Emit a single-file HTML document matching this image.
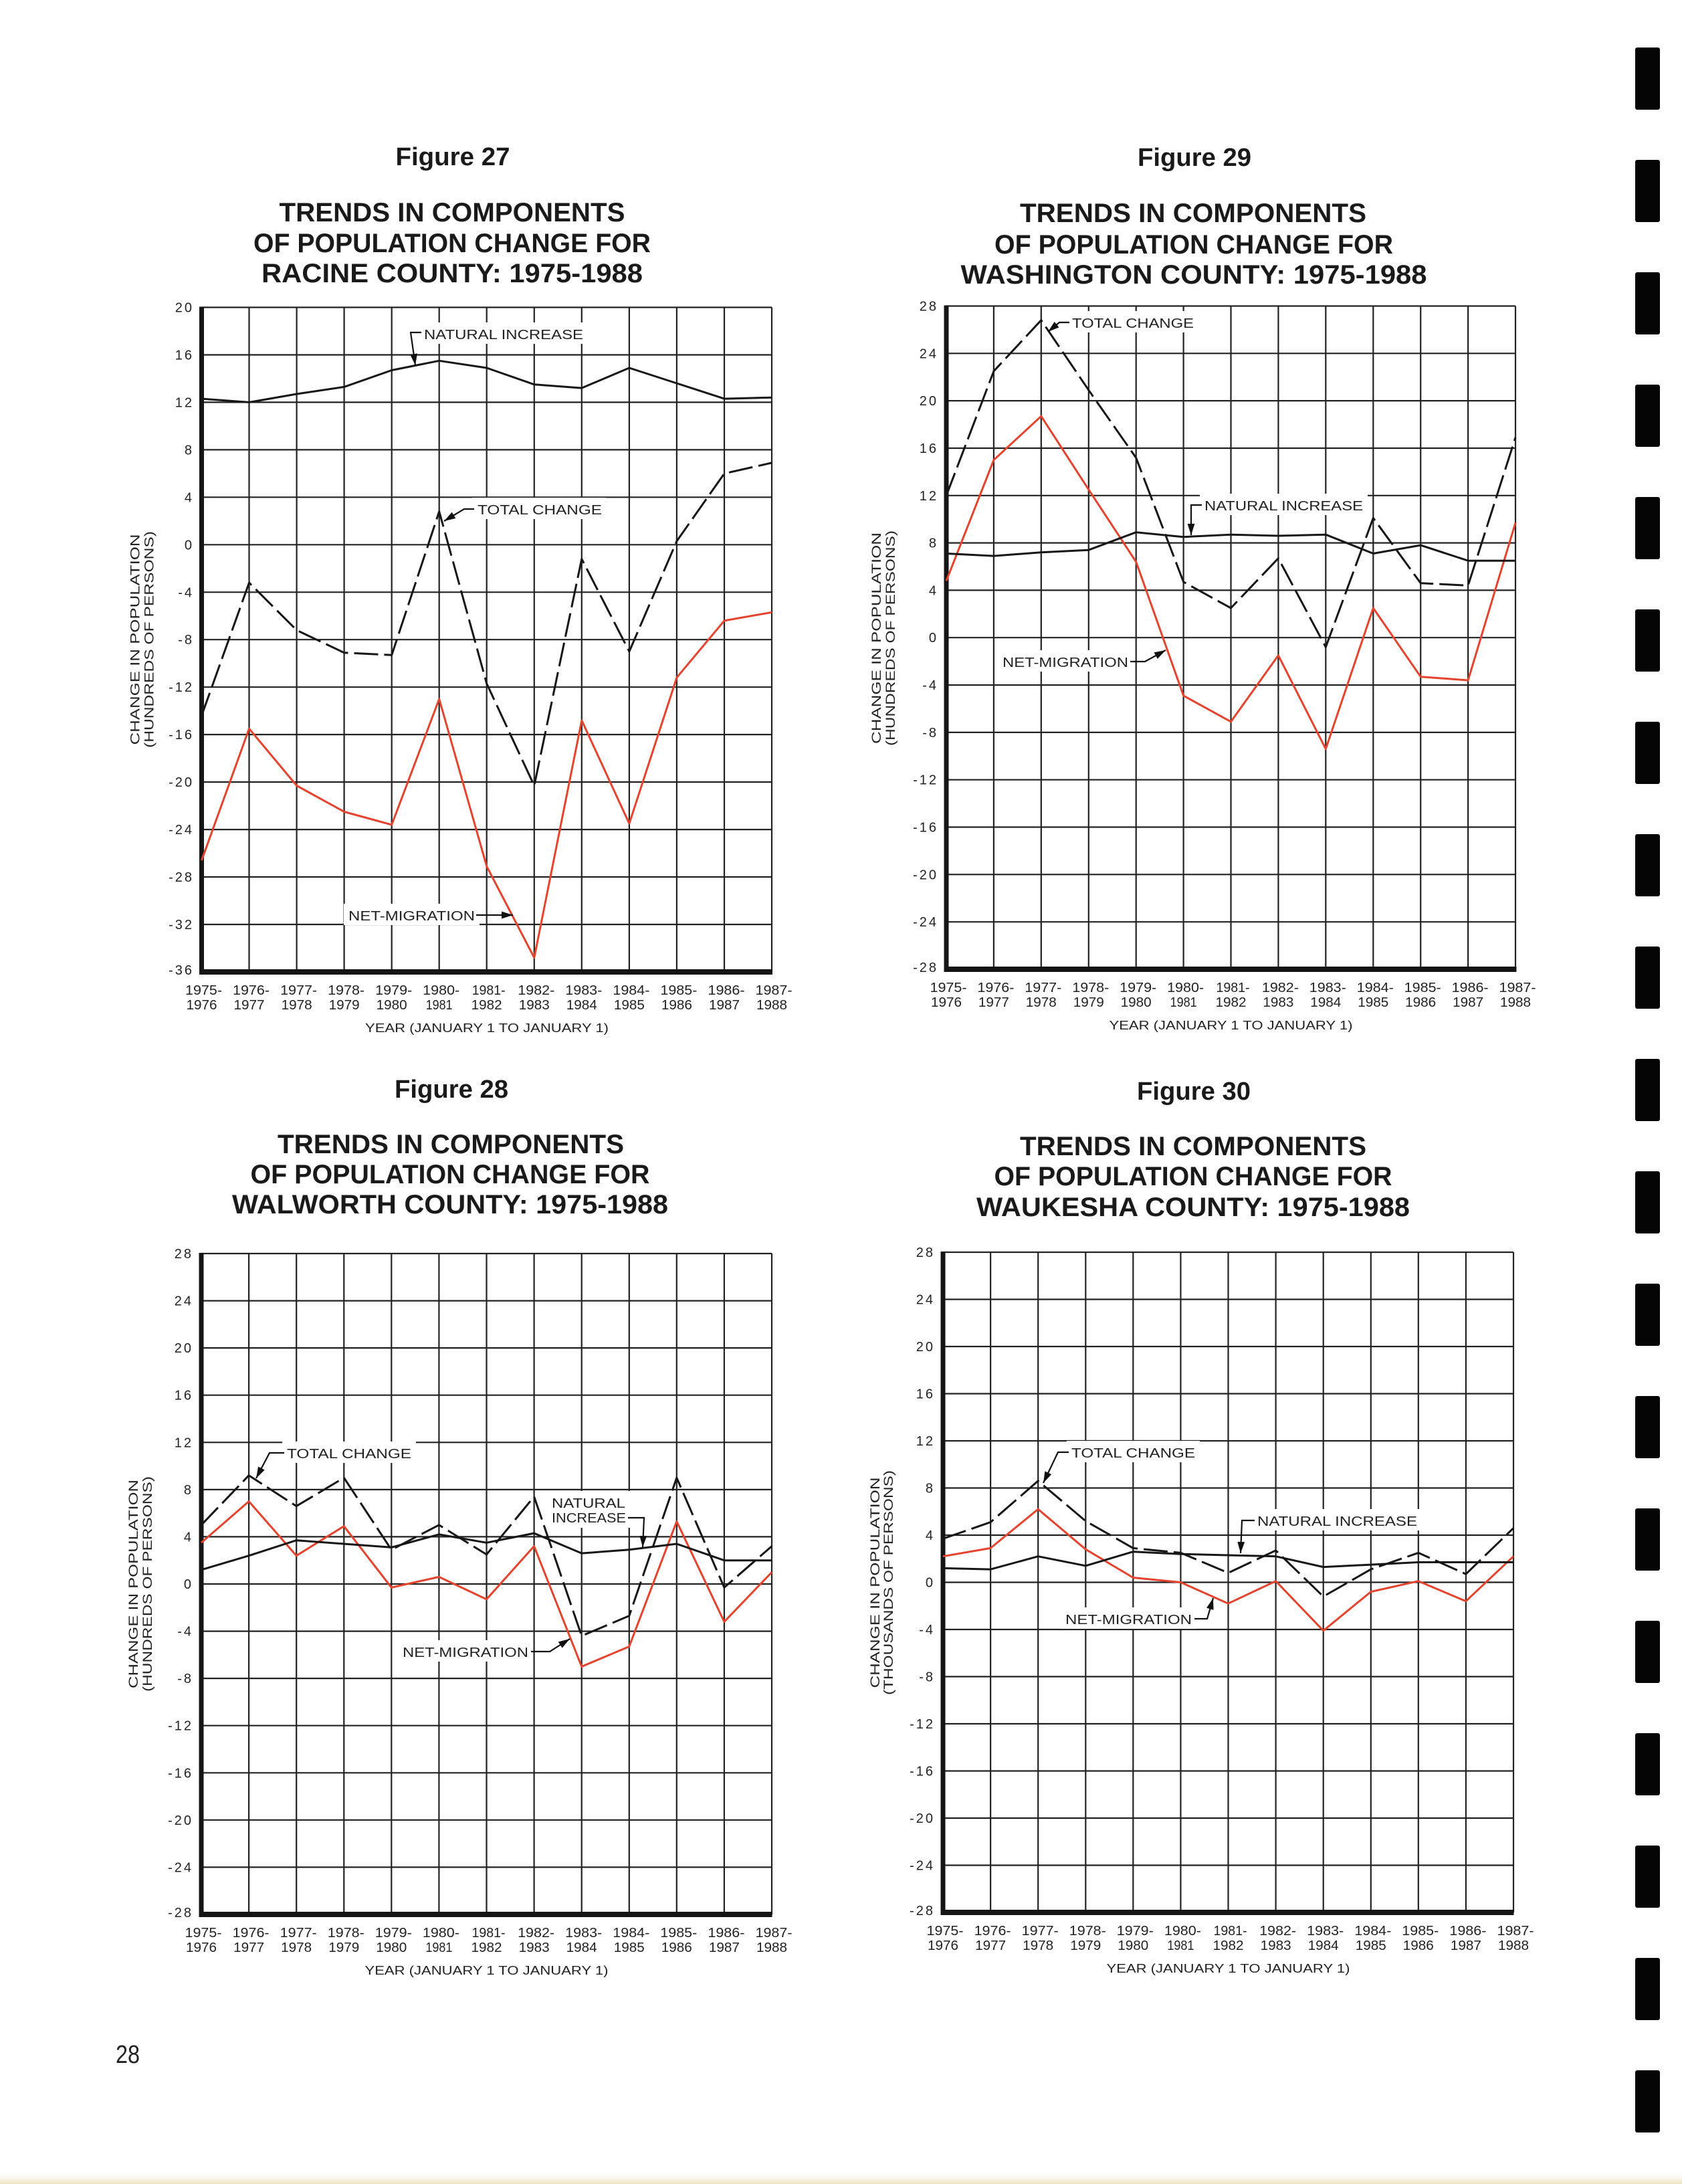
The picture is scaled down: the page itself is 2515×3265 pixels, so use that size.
<!DOCTYPE html>
<html><head><meta charset="utf-8"><style>html,body{margin:0;padding:0;background:#fff}svg{display:block}</style></head><body>
<svg xmlns="http://www.w3.org/2000/svg" width="2515" height="3265" viewBox="0 0 2515 3265" font-family="'Liberation Sans', Arial, sans-serif">
<defs>
<marker id="a" viewBox="0 0 10 10" refX="10" refY="5" markerWidth="17" markerHeight="17" markerUnits="userSpaceOnUse" orient="auto"><path d="M0,1.8 L10,5 L0,8.2 z" fill="#111"/></marker>
<linearGradient id="yl" x1="0" y1="0" x2="0" y2="1"><stop offset="0" stop-color="#fff" stop-opacity="0"/><stop offset="1" stop-color="#ece4c0"/></linearGradient>
</defs>
<rect width="2515" height="3265" fill="#fff"/>
<rect x="0" y="3245" width="2515" height="20" fill="url(#yl)"/>

<!-- side marks -->
<g fill="#050505">
<rect x="2445" y="71" width="37" height="93" rx="3"/><rect x="2445" y="239" width="37" height="93" rx="3"/><rect x="2445" y="407" width="37" height="93" rx="3"/><rect x="2445" y="575" width="37" height="93" rx="3"/><rect x="2445" y="743" width="37" height="93" rx="3"/><rect x="2445" y="911" width="37" height="93" rx="3"/><rect x="2445" y="1079" width="37" height="93" rx="3"/><rect x="2445" y="1247" width="37" height="93" rx="3"/><rect x="2445" y="1415" width="37" height="93" rx="3"/><rect x="2445" y="1583" width="37" height="93" rx="3"/><rect x="2445" y="1751" width="37" height="93" rx="3"/><rect x="2445" y="1919" width="37" height="93" rx="3"/><rect x="2445" y="2087" width="37" height="93" rx="3"/><rect x="2445" y="2255" width="37" height="93" rx="3"/><rect x="2445" y="2423" width="37" height="93" rx="3"/><rect x="2445" y="2591" width="37" height="93" rx="3"/><rect x="2445" y="2759" width="37" height="93" rx="3"/><rect x="2445" y="2927" width="37" height="93" rx="3"/><rect x="2445" y="3095" width="37" height="93" rx="3"/>
</g>

<text x="173" y="3084" font-size="38" fill="#222" textLength="36" lengthAdjust="spacingAndGlyphs">28</text>

<!-- ================= FIGURE 27 ================= -->
<g fill="#1a1a1a">
<text x="677" y="247" font-size="38" font-weight="bold" text-anchor="middle" textLength="171" lengthAdjust="spacingAndGlyphs">Figure 27</text>
<text x="676" y="331" font-size="40" font-weight="bold" text-anchor="middle" textLength="517" lengthAdjust="spacingAndGlyphs">TRENDS IN COMPONENTS</text>
<text x="676" y="377" font-size="40" font-weight="bold" text-anchor="middle" textLength="594" lengthAdjust="spacingAndGlyphs">OF POPULATION CHANGE FOR</text>
<text x="676" y="422" font-size="40" font-weight="bold" text-anchor="middle" textLength="570" lengthAdjust="spacingAndGlyphs">RACINE COUNTY: 1975-1988</text>
</g>
<path fill="none" stroke="#222" stroke-width="2.2" d="M372.5 459.5V1453M443.6 459.5V1453M514.6 459.5V1453M585.7 459.5V1453M656.7 459.5V1453M727.7 459.5V1453M798.8 459.5V1453M869.8 459.5V1453M940.9 459.5V1453M1011.9 459.5V1453M1083 459.5V1453M1154 459.5V1453M301.5 459.5H1154M301.5 530.5H1154M301.5 601.4H1154M301.5 672.4H1154M301.5 743.3H1154M301.5 814.3H1154M301.5 885.3H1154M301.5 956.2H1154M301.5 1027.2H1154M301.5 1098.1H1154M301.5 1169.1H1154M301.5 1240.1H1154M301.5 1311H1154M301.5 1382H1154"/>
<rect x="298" y="458.5" width="7" height="998" fill="#151515"/>
<rect x="298" y="1449" width="857" height="8" fill="#151515"/>
<g font-size="20" text-anchor="end" fill="#222" letter-spacing="3">
<text x="290" y="466.5">20</text><text x="290" y="537.5">16</text><text x="290" y="608.4">12</text><text x="290" y="679.4">8</text><text x="290" y="750.3">4</text><text x="290" y="821.3">0</text><text x="290" y="892.3">-4</text><text x="290" y="963.2">-8</text><text x="290" y="1034.2">-12</text><text x="290" y="1105.1">-16</text><text x="290" y="1176.1">-20</text><text x="290" y="1247.1">-24</text><text x="290" y="1318">-28</text><text x="290" y="1389">-32</text><text x="290" y="1457">-36</text>
</g>
<g font-size="19" fill="#222" text-anchor="middle">
<text transform="translate(201.5,956) rotate(-90)" x="0" y="7" textLength="315" lengthAdjust="spacingAndGlyphs">CHANGE IN POPULATION</text>
<text transform="translate(222.5,956) rotate(-90)" x="0" y="7" textLength="324" lengthAdjust="spacingAndGlyphs">(HUNDREDS OF PERSONS)</text>
</g>
<g font-size="20" fill="#222" text-anchor="middle">
<text x="304.5" y="1487" textLength="55" lengthAdjust="spacingAndGlyphs">1975-</text><text x="375.5" y="1487" textLength="55" lengthAdjust="spacingAndGlyphs">1976-</text><text x="446.6" y="1487" textLength="55" lengthAdjust="spacingAndGlyphs">1977-</text><text x="517.6" y="1487" textLength="55" lengthAdjust="spacingAndGlyphs">1978-</text><text x="588.7" y="1487" textLength="55" lengthAdjust="spacingAndGlyphs">1979-</text><text x="659.7" y="1487" textLength="55" lengthAdjust="spacingAndGlyphs">1980-</text><text x="730.7" y="1487" textLength="50" lengthAdjust="spacingAndGlyphs">1981-</text><text x="801.8" y="1487" textLength="55" lengthAdjust="spacingAndGlyphs">1982-</text><text x="872.8" y="1487" textLength="55" lengthAdjust="spacingAndGlyphs">1983-</text><text x="943.9" y="1487" textLength="55" lengthAdjust="spacingAndGlyphs">1984-</text><text x="1014.9" y="1487" textLength="55" lengthAdjust="spacingAndGlyphs">1985-</text><text x="1086" y="1487" textLength="55" lengthAdjust="spacingAndGlyphs">1986-</text><text x="1157" y="1487" textLength="55" lengthAdjust="spacingAndGlyphs">1987-</text>
<text x="301.5" y="1509" textLength="46" lengthAdjust="spacingAndGlyphs">1976</text><text x="372.5" y="1509" textLength="46" lengthAdjust="spacingAndGlyphs">1977</text><text x="443.6" y="1509" textLength="46" lengthAdjust="spacingAndGlyphs">1978</text><text x="514.6" y="1509" textLength="46" lengthAdjust="spacingAndGlyphs">1979</text><text x="585.7" y="1509" textLength="46" lengthAdjust="spacingAndGlyphs">1980</text><text x="656.7" y="1509" textLength="40" lengthAdjust="spacingAndGlyphs">1981</text><text x="727.7" y="1509" textLength="46" lengthAdjust="spacingAndGlyphs">1982</text><text x="798.8" y="1509" textLength="46" lengthAdjust="spacingAndGlyphs">1983</text><text x="869.8" y="1509" textLength="46" lengthAdjust="spacingAndGlyphs">1984</text><text x="940.9" y="1509" textLength="46" lengthAdjust="spacingAndGlyphs">1985</text><text x="1011.9" y="1509" textLength="46" lengthAdjust="spacingAndGlyphs">1986</text><text x="1083" y="1509" textLength="46" lengthAdjust="spacingAndGlyphs">1987</text><text x="1154" y="1509" textLength="46" lengthAdjust="spacingAndGlyphs">1988</text>
<text x="728" y="1543" font-size="18" textLength="364" lengthAdjust="spacingAndGlyphs">YEAR (JANUARY 1 TO JANUARY 1)</text>
</g>
<g fill="#fff"><rect x="627" y="482" width="252" height="32"/><rect x="706" y="744" width="200" height="32"/><rect x="514" y="1351" width="203" height="32"/></g>
<g font-size="20" fill="#222">
<text x="634" y="507" textLength="238" lengthAdjust="spacingAndGlyphs">NATURAL INCREASE</text>
<text x="714" y="769" textLength="186" lengthAdjust="spacingAndGlyphs">TOTAL CHANGE</text>
<text x="521" y="1376" textLength="189" lengthAdjust="spacingAndGlyphs">NET-MIGRATION</text>
</g>
<g fill="none" stroke-width="3" stroke-linejoin="round">
<polyline stroke="#e4432d" points="301.5,1286.2 372.5,1089.3 443.6,1174.5 514.6,1213.5 585.7,1233 656.7,1045 727.7,1295.1 798.8,1431.7 869.8,1076.9 940.9,1231.2 1011.9,1013 1083,927.9 1154,915.4"/>
<polyline stroke="#161616" points="301.5,596.1 372.5,601.4 443.6,589 514.6,578.4 585.7,553.5 656.7,539.3 727.7,550 798.8,574.8 869.8,580.1 940.9,550 1011.9,573 1083,596.1 1154,594.3"/>
<polyline stroke="#161616" stroke-dasharray="36 9" points="301.5,1069.8 372.5,871.1 443.6,942.1 514.6,975.8 585.7,979.3 656.7,764.6 727.7,1021.9 798.8,1174.5 869.8,835.6 940.9,974 1011.9,809 1083,707.9 1154,691.9"/>
</g>
<g fill="none" stroke="#111" stroke-width="2.2">
<polyline points="630,497 614,497 621,546" marker-end="url(#a)"/>
<polyline points="709,761 694,761 664,779" marker-end="url(#a)"/>
<polyline points="712,1368 767,1368" marker-end="url(#a)"/>
</g>

<!-- ================= FIGURE 29 ================= -->
<g fill="#1a1a1a">
<text x="1786" y="248" font-size="38" font-weight="bold" text-anchor="middle" textLength="170" lengthAdjust="spacingAndGlyphs">Figure 29</text>
<text x="1784" y="332" font-size="40" font-weight="bold" text-anchor="middle" textLength="518" lengthAdjust="spacingAndGlyphs">TRENDS IN COMPONENTS</text>
<text x="1785" y="379" font-size="40" font-weight="bold" text-anchor="middle" textLength="596" lengthAdjust="spacingAndGlyphs">OF POPULATION CHANGE FOR</text>
<text x="1785" y="424" font-size="40" font-weight="bold" text-anchor="middle" textLength="697" lengthAdjust="spacingAndGlyphs">WASHINGTON COUNTY: 1975-1988</text>
</g>
<path fill="none" stroke="#222" stroke-width="2.2" d="M1485.9 457.5V1449M1556.8 457.5V1449M1627.8 457.5V1449M1698.7 457.5V1449M1769.6 457.5V1449M1840.5 457.5V1449M1911.4 457.5V1449M1982.3 457.5V1449M2053.3 457.5V1449M2124.2 457.5V1449M2195.1 457.5V1449M2266 457.5V1449M1415 457.5H2266M1415 528.3H2266M1415 599.1H2266M1415 670H2266M1415 740.8H2266M1415 811.6H2266M1415 882.4H2266M1415 953.2H2266M1415 1024.1H2266M1415 1094.9H2266M1415 1165.7H2266M1415 1236.5H2266M1415 1307.3H2266M1415 1378.2H2266"/>
<rect x="1411.5" y="456.5" width="7" height="996" fill="#151515"/>
<rect x="1411.5" y="1445" width="856" height="8" fill="#151515"/>
<g font-size="20" text-anchor="end" fill="#222" letter-spacing="3">
<text x="1403" y="464.5">28</text><text x="1403" y="535.3">24</text><text x="1403" y="606.1">20</text><text x="1403" y="677">16</text><text x="1403" y="747.8">12</text><text x="1403" y="818.6">8</text><text x="1403" y="889.4">4</text><text x="1403" y="960.2">0</text><text x="1403" y="1031.1">-4</text><text x="1403" y="1101.9">-8</text><text x="1403" y="1172.7">-12</text><text x="1403" y="1243.5">-16</text><text x="1403" y="1314.3">-20</text><text x="1403" y="1385.2">-24</text><text x="1403" y="1453">-28</text>
</g>
<g font-size="19" fill="#222" text-anchor="middle">
<text transform="translate(1310,954) rotate(-90)" x="0" y="7" textLength="316" lengthAdjust="spacingAndGlyphs">CHANGE IN POPULATION</text>
<text transform="translate(1331,954) rotate(-90)" x="0" y="7" textLength="322" lengthAdjust="spacingAndGlyphs">(HUNDREDS OF PERSONS)</text>
</g>
<g font-size="20" fill="#222" text-anchor="middle">
<text x="1418" y="1483" textLength="55" lengthAdjust="spacingAndGlyphs">1975-</text><text x="1488.9" y="1483" textLength="55" lengthAdjust="spacingAndGlyphs">1976-</text><text x="1559.8" y="1483" textLength="55" lengthAdjust="spacingAndGlyphs">1977-</text><text x="1630.8" y="1483" textLength="55" lengthAdjust="spacingAndGlyphs">1978-</text><text x="1701.7" y="1483" textLength="55" lengthAdjust="spacingAndGlyphs">1979-</text><text x="1772.6" y="1483" textLength="55" lengthAdjust="spacingAndGlyphs">1980-</text><text x="1843.5" y="1483" textLength="50" lengthAdjust="spacingAndGlyphs">1981-</text><text x="1914.4" y="1483" textLength="55" lengthAdjust="spacingAndGlyphs">1982-</text><text x="1985.3" y="1483" textLength="55" lengthAdjust="spacingAndGlyphs">1983-</text><text x="2056.3" y="1483" textLength="55" lengthAdjust="spacingAndGlyphs">1984-</text><text x="2127.2" y="1483" textLength="55" lengthAdjust="spacingAndGlyphs">1985-</text><text x="2198.1" y="1483" textLength="55" lengthAdjust="spacingAndGlyphs">1986-</text><text x="2269" y="1483" textLength="55" lengthAdjust="spacingAndGlyphs">1987-</text>
<text x="1415" y="1505" textLength="46" lengthAdjust="spacingAndGlyphs">1976</text><text x="1485.9" y="1505" textLength="46" lengthAdjust="spacingAndGlyphs">1977</text><text x="1556.8" y="1505" textLength="46" lengthAdjust="spacingAndGlyphs">1978</text><text x="1627.8" y="1505" textLength="46" lengthAdjust="spacingAndGlyphs">1979</text><text x="1698.7" y="1505" textLength="46" lengthAdjust="spacingAndGlyphs">1980</text><text x="1769.6" y="1505" textLength="40" lengthAdjust="spacingAndGlyphs">1981</text><text x="1840.5" y="1505" textLength="46" lengthAdjust="spacingAndGlyphs">1982</text><text x="1911.4" y="1505" textLength="46" lengthAdjust="spacingAndGlyphs">1983</text><text x="1982.3" y="1505" textLength="46" lengthAdjust="spacingAndGlyphs">1984</text><text x="2053.3" y="1505" textLength="46" lengthAdjust="spacingAndGlyphs">1985</text><text x="2124.2" y="1505" textLength="46" lengthAdjust="spacingAndGlyphs">1986</text><text x="2195.1" y="1505" textLength="46" lengthAdjust="spacingAndGlyphs">1987</text><text x="2266" y="1505" textLength="46" lengthAdjust="spacingAndGlyphs">1988</text>
<text x="1840.5" y="1539" font-size="18" textLength="364" lengthAdjust="spacingAndGlyphs">YEAR (JANUARY 1 TO JANUARY 1)</text>
</g>
<g fill="#fff"><rect x="1596" y="465" width="195" height="32"/><rect x="1794" y="738" width="251" height="32"/><rect x="1492" y="972" width="202" height="32"/></g>
<g font-size="20" fill="#222">
<text x="1603" y="490" textLength="182" lengthAdjust="spacingAndGlyphs">TOTAL  CHANGE</text>
<text x="1801" y="763" textLength="237" lengthAdjust="spacingAndGlyphs">NATURAL INCREASE</text>
<text x="1499" y="997" textLength="188" lengthAdjust="spacingAndGlyphs">NET-MIGRATION</text>
</g>
<g fill="none" stroke-width="3" stroke-linejoin="round">
<polyline stroke="#e4432d" points="1415,868.3 1485.9,687.7 1556.8,622.2 1627.8,731.9 1698.7,839.9 1769.6,1040 1840.5,1078.9 1911.4,979.8 1982.3,1119.7 2053.3,909 2124.2,1011.7 2195.1,1017 2266,781.5"/>
<polyline stroke="#161616" points="1415,827.5 1485.9,831.1 1556.8,825.8 1627.8,822.2 1698.7,795.7 1769.6,802.7 1840.5,799.2 1911.4,801 1982.3,799.2 2053.3,827.5 2124.2,815.1 2195.1,838.2 2266,838.2"/>
<polyline stroke="#161616" stroke-dasharray="36 9" points="1415,740.8 1485.9,554.9 1556.8,478.7 1627.8,583.2 1698.7,684.4 1769.6,870 1840.5,909 1911.4,834.6 1982.3,967.4 2053.3,774.4 2124.2,871.8 2195.1,875.3 2266,654"/>
</g>
<g fill="none" stroke="#111" stroke-width="2.2">
<polyline points="1599,482 1584,482 1567,496" marker-end="url(#a)"/>
<polyline points="1797,755 1781,755 1781,800" marker-end="url(#a)"/>
<polyline points="1690,989 1712,989 1743,972" marker-end="url(#a)"/>
</g>

<!-- ================= FIGURE 28 ================= -->
<g fill="#1a1a1a">
<text x="675" y="1641" font-size="38" font-weight="bold" text-anchor="middle" textLength="170" lengthAdjust="spacingAndGlyphs">Figure 28</text>
<text x="674" y="1724" font-size="40" font-weight="bold" text-anchor="middle" textLength="518" lengthAdjust="spacingAndGlyphs">TRENDS IN COMPONENTS</text>
<text x="673" y="1769" font-size="40" font-weight="bold" text-anchor="middle" textLength="597" lengthAdjust="spacingAndGlyphs">OF POPULATION CHANGE FOR</text>
<text x="673" y="1814" font-size="40" font-weight="bold" text-anchor="middle" textLength="652" lengthAdjust="spacingAndGlyphs">WALWORTH COUNTY: 1975-1988</text>
</g>
<path fill="none" stroke="#222" stroke-width="2.2" d="M372.1 1874V2862M443.2 1874V2862M514.3 1874V2862M585.3 1874V2862M656.4 1874V2862M727.5 1874V2862M798.6 1874V2862M869.7 1874V2862M940.8 1874V2862M1011.8 1874V2862M1082.9 1874V2862M1154 1874V2862M301 1874H1154M301 1944.6H1154M301 2015.1H1154M301 2085.7H1154M301 2156.3H1154M301 2226.9H1154M301 2297.4H1154M301 2368H1154M301 2438.6H1154M301 2509.1H1154M301 2579.7H1154M301 2650.3H1154M301 2720.8H1154M301 2791.4H1154"/>
<rect x="297.5" y="1873" width="7" height="993" fill="#151515"/>
<rect x="297.5" y="2858" width="857" height="8" fill="#151515"/>
<g font-size="20" text-anchor="end" fill="#222" letter-spacing="3">
<text x="289" y="1881">28</text><text x="289" y="1951.6">24</text><text x="289" y="2022.1">20</text><text x="289" y="2092.7">16</text><text x="289" y="2163.3">12</text><text x="289" y="2233.9">8</text><text x="289" y="2304.4">4</text><text x="289" y="2375">0</text><text x="289" y="2445.6">-4</text><text x="289" y="2516.1">-8</text><text x="289" y="2586.7">-12</text><text x="289" y="2657.3">-16</text><text x="289" y="2727.8">-20</text><text x="289" y="2798.4">-24</text><text x="289" y="2866">-28</text>
</g>
<g font-size="19" fill="#222" text-anchor="middle">
<text transform="translate(199,2368) rotate(-90)" x="0" y="7" textLength="312" lengthAdjust="spacingAndGlyphs">CHANGE IN POPULATION</text>
<text transform="translate(220,2368) rotate(-90)" x="0" y="7" textLength="322" lengthAdjust="spacingAndGlyphs">(HUNDREDS OF PERSONS)</text>
</g>
<g font-size="20" fill="#222" text-anchor="middle">
<text x="304" y="2896" textLength="55" lengthAdjust="spacingAndGlyphs">1975-</text><text x="375.1" y="2896" textLength="55" lengthAdjust="spacingAndGlyphs">1976-</text><text x="446.2" y="2896" textLength="55" lengthAdjust="spacingAndGlyphs">1977-</text><text x="517.3" y="2896" textLength="55" lengthAdjust="spacingAndGlyphs">1978-</text><text x="588.3" y="2896" textLength="55" lengthAdjust="spacingAndGlyphs">1979-</text><text x="659.4" y="2896" textLength="55" lengthAdjust="spacingAndGlyphs">1980-</text><text x="730.5" y="2896" textLength="50" lengthAdjust="spacingAndGlyphs">1981-</text><text x="801.6" y="2896" textLength="55" lengthAdjust="spacingAndGlyphs">1982-</text><text x="872.7" y="2896" textLength="55" lengthAdjust="spacingAndGlyphs">1983-</text><text x="943.8" y="2896" textLength="55" lengthAdjust="spacingAndGlyphs">1984-</text><text x="1014.8" y="2896" textLength="55" lengthAdjust="spacingAndGlyphs">1985-</text><text x="1085.9" y="2896" textLength="55" lengthAdjust="spacingAndGlyphs">1986-</text><text x="1157" y="2896" textLength="55" lengthAdjust="spacingAndGlyphs">1987-</text>
<text x="301" y="2918" textLength="46" lengthAdjust="spacingAndGlyphs">1976</text><text x="372.1" y="2918" textLength="46" lengthAdjust="spacingAndGlyphs">1977</text><text x="443.2" y="2918" textLength="46" lengthAdjust="spacingAndGlyphs">1978</text><text x="514.3" y="2918" textLength="46" lengthAdjust="spacingAndGlyphs">1979</text><text x="585.3" y="2918" textLength="46" lengthAdjust="spacingAndGlyphs">1980</text><text x="656.4" y="2918" textLength="40" lengthAdjust="spacingAndGlyphs">1981</text><text x="727.5" y="2918" textLength="46" lengthAdjust="spacingAndGlyphs">1982</text><text x="798.6" y="2918" textLength="46" lengthAdjust="spacingAndGlyphs">1983</text><text x="869.7" y="2918" textLength="46" lengthAdjust="spacingAndGlyphs">1984</text><text x="940.8" y="2918" textLength="46" lengthAdjust="spacingAndGlyphs">1985</text><text x="1011.8" y="2918" textLength="46" lengthAdjust="spacingAndGlyphs">1986</text><text x="1082.9" y="2918" textLength="46" lengthAdjust="spacingAndGlyphs">1987</text><text x="1154" y="2918" textLength="46" lengthAdjust="spacingAndGlyphs">1988</text>
<text x="727.5" y="2952" font-size="18" textLength="364" lengthAdjust="spacingAndGlyphs">YEAR (JANUARY 1 TO JANUARY 1)</text>
</g>
<g fill="#fff"><rect x="422" y="2155" width="200" height="32"/><rect x="818" y="2229" width="125" height="55"/><rect x="595" y="2452" width="202" height="32"/></g>
<g font-size="20" fill="#222">
<text x="429" y="2180" textLength="186" lengthAdjust="spacingAndGlyphs">TOTAL CHANGE</text>
<text x="825" y="2254" textLength="110" lengthAdjust="spacingAndGlyphs">NATURAL</text>
<text x="825" y="2276" textLength="111" lengthAdjust="spacingAndGlyphs">INCREASE</text>
<text x="602" y="2477" textLength="188" lengthAdjust="spacingAndGlyphs">NET-MIGRATION</text>
</g>
<g fill="none" stroke-width="3" stroke-linejoin="round">
<polyline stroke="#e4432d" points="301,2306.3 372.1,2244.5 443.2,2325.7 514.3,2281.6 585.3,2373.3 656.4,2357.4 727.5,2390.9 798.6,2311.5 869.7,2491.5 940.8,2461.5 1011.8,2274.5 1082.9,2424.5 1154,2350.4"/>
<polyline stroke="#161616" points="301,2346.8 372.1,2325.7 443.2,2302.7 514.3,2308 585.3,2313.3 656.4,2293.9 727.5,2306.3 798.6,2292.1 869.7,2322.1 940.8,2316.8 1011.8,2308 1082.9,2332.7 1154,2332.7"/>
<polyline stroke="#161616" stroke-dasharray="36 9" points="301,2279.8 372.1,2205.7 443.2,2251.6 514.3,2209.2 585.3,2316.8 656.4,2279.8 727.5,2323.9 798.6,2237.4 869.7,2445.6 940.8,2415.6 1011.8,2209.2 1082.9,2373.3 1154,2311.5"/>
</g>
<g fill="none" stroke="#111" stroke-width="2.2">
<polyline points="425,2172 403,2172 383,2210" marker-end="url(#a)"/>
<polyline points="939,2269 963,2269 961,2313" marker-end="url(#a)"/>
<polyline points="794,2469 822,2469 852,2450" marker-end="url(#a)"/>
</g>

<!-- ================= FIGURE 30 ================= -->
<g fill="#1a1a1a">
<text x="1785" y="1644" font-size="38" font-weight="bold" text-anchor="middle" textLength="170" lengthAdjust="spacingAndGlyphs">Figure 30</text>
<text x="1784" y="1727" font-size="40" font-weight="bold" text-anchor="middle" textLength="518" lengthAdjust="spacingAndGlyphs">TRENDS IN COMPONENTS</text>
<text x="1784" y="1772" font-size="40" font-weight="bold" text-anchor="middle" textLength="595" lengthAdjust="spacingAndGlyphs">OF POPULATION CHANGE FOR</text>
<text x="1784" y="1818" font-size="40" font-weight="bold" text-anchor="middle" textLength="648" lengthAdjust="spacingAndGlyphs">WAUKESHA COUNTY: 1975-1988</text>
</g>
<path fill="none" stroke="#222" stroke-width="2.2" d="M1481.1 1872V2859M1552.2 1872V2859M1623.3 1872V2859M1694.3 1872V2859M1765.4 1872V2859M1836.5 1872V2859M1907.6 1872V2859M1978.7 1872V2859M2049.8 1872V2859M2120.8 1872V2859M2191.9 1872V2859M2263 1872V2859M1410 1872H2263M1410 1942.5H2263M1410 2013H2263M1410 2083.5H2263M1410 2154H2263M1410 2224.5H2263M1410 2295H2263M1410 2365.5H2263M1410 2436H2263M1410 2506.5H2263M1410 2577H2263M1410 2647.5H2263M1410 2718H2263M1410 2788.5H2263"/>
<rect x="1406.5" y="1871" width="7" height="992" fill="#151515"/>
<rect x="1406.5" y="2855" width="857" height="8" fill="#151515"/>
<g font-size="20" text-anchor="end" fill="#222" letter-spacing="3">
<text x="1398" y="1879">28</text><text x="1398" y="1949.5">24</text><text x="1398" y="2020">20</text><text x="1398" y="2090.5">16</text><text x="1398" y="2161">12</text><text x="1398" y="2231.5">8</text><text x="1398" y="2302">4</text><text x="1398" y="2372.5">0</text><text x="1398" y="2443">-4</text><text x="1398" y="2513.5">-8</text><text x="1398" y="2584">-12</text><text x="1398" y="2654.5">-16</text><text x="1398" y="2725">-20</text><text x="1398" y="2795.5">-24</text><text x="1398" y="2863">-28</text>
</g>
<g font-size="19" fill="#222" text-anchor="middle">
<text transform="translate(1308,2366) rotate(-90)" x="0" y="7" textLength="315" lengthAdjust="spacingAndGlyphs">CHANGE IN POPULATION</text>
<text transform="translate(1328,2366) rotate(-90)" x="0" y="7" textLength="336" lengthAdjust="spacingAndGlyphs">(THOUSANDS OF PERSONS)</text>
</g>
<g font-size="20" fill="#222" text-anchor="middle">
<text x="1413" y="2893" textLength="55" lengthAdjust="spacingAndGlyphs">1975-</text><text x="1484.1" y="2893" textLength="55" lengthAdjust="spacingAndGlyphs">1976-</text><text x="1555.2" y="2893" textLength="55" lengthAdjust="spacingAndGlyphs">1977-</text><text x="1626.3" y="2893" textLength="55" lengthAdjust="spacingAndGlyphs">1978-</text><text x="1697.3" y="2893" textLength="55" lengthAdjust="spacingAndGlyphs">1979-</text><text x="1768.4" y="2893" textLength="55" lengthAdjust="spacingAndGlyphs">1980-</text><text x="1839.5" y="2893" textLength="50" lengthAdjust="spacingAndGlyphs">1981-</text><text x="1910.6" y="2893" textLength="55" lengthAdjust="spacingAndGlyphs">1982-</text><text x="1981.7" y="2893" textLength="55" lengthAdjust="spacingAndGlyphs">1983-</text><text x="2052.8" y="2893" textLength="55" lengthAdjust="spacingAndGlyphs">1984-</text><text x="2123.8" y="2893" textLength="55" lengthAdjust="spacingAndGlyphs">1985-</text><text x="2194.9" y="2893" textLength="55" lengthAdjust="spacingAndGlyphs">1986-</text><text x="2266" y="2893" textLength="55" lengthAdjust="spacingAndGlyphs">1987-</text>
<text x="1410" y="2915" textLength="46" lengthAdjust="spacingAndGlyphs">1976</text><text x="1481.1" y="2915" textLength="46" lengthAdjust="spacingAndGlyphs">1977</text><text x="1552.2" y="2915" textLength="46" lengthAdjust="spacingAndGlyphs">1978</text><text x="1623.3" y="2915" textLength="46" lengthAdjust="spacingAndGlyphs">1979</text><text x="1694.3" y="2915" textLength="46" lengthAdjust="spacingAndGlyphs">1980</text><text x="1765.4" y="2915" textLength="40" lengthAdjust="spacingAndGlyphs">1981</text><text x="1836.5" y="2915" textLength="46" lengthAdjust="spacingAndGlyphs">1982</text><text x="1907.6" y="2915" textLength="46" lengthAdjust="spacingAndGlyphs">1983</text><text x="1978.7" y="2915" textLength="46" lengthAdjust="spacingAndGlyphs">1984</text><text x="2049.8" y="2915" textLength="46" lengthAdjust="spacingAndGlyphs">1985</text><text x="2120.8" y="2915" textLength="46" lengthAdjust="spacingAndGlyphs">1986</text><text x="2191.9" y="2915" textLength="46" lengthAdjust="spacingAndGlyphs">1987</text><text x="2263" y="2915" textLength="46" lengthAdjust="spacingAndGlyphs">1988</text>
<text x="1836.5" y="2949" font-size="18" textLength="364" lengthAdjust="spacingAndGlyphs">YEAR (JANUARY 1 TO JANUARY 1)</text>
</g>
<g fill="#fff"><rect x="1595" y="2154" width="199" height="32"/><rect x="1873" y="2256" width="253" height="32"/><rect x="1586" y="2403" width="203" height="32"/></g>
<g font-size="20" fill="#222">
<text x="1602" y="2179" textLength="185" lengthAdjust="spacingAndGlyphs">TOTAL CHANGE</text>
<text x="1880" y="2281" textLength="239" lengthAdjust="spacingAndGlyphs">NATURAL INCREASE</text>
<text x="1593" y="2428" textLength="189" lengthAdjust="spacingAndGlyphs">NET-MIGRATION</text>
</g>
<g fill="none" stroke-width="3" stroke-linejoin="round">
<polyline stroke="#e4432d" points="1410,2326.7 1481.1,2314.4 1552.2,2256.2 1623.3,2316.2 1694.3,2358.5 1765.4,2365.5 1836.5,2397.2 1907.6,2363.7 1978.7,2437.8 2049.8,2379.6 2120.8,2363.7 2191.9,2393.7 2263,2326.7"/>
<polyline stroke="#161616" points="1410,2344.4 1481.1,2346.1 1552.2,2326.7 1623.3,2340.8 1694.3,2319.7 1765.4,2323.2 1836.5,2325 1907.6,2326.7 1978.7,2342.6 2049.8,2339.1 2120.8,2335.5 2191.9,2335.5 2263,2335.5"/>
<polyline stroke="#161616" stroke-dasharray="36 9" points="1410,2300.3 1481.1,2275.6 1552.2,2213.9 1623.3,2273.9 1694.3,2314.4 1765.4,2321.4 1836.5,2351.4 1907.6,2317.9 1978.7,2386.7 2049.8,2346.1 2120.8,2321.4 2191.9,2353.2 2263,2284.4"/>
</g>
<g fill="none" stroke="#111" stroke-width="2.2">
<polyline points="1598,2171 1582,2171 1560,2217" marker-end="url(#a)"/>
<polyline points="1876,2273 1857,2273 1855,2322" marker-end="url(#a)"/>
<polyline points="1786,2420 1805,2420 1814,2389" marker-end="url(#a)"/>
</g>
</svg>
</body></html>
